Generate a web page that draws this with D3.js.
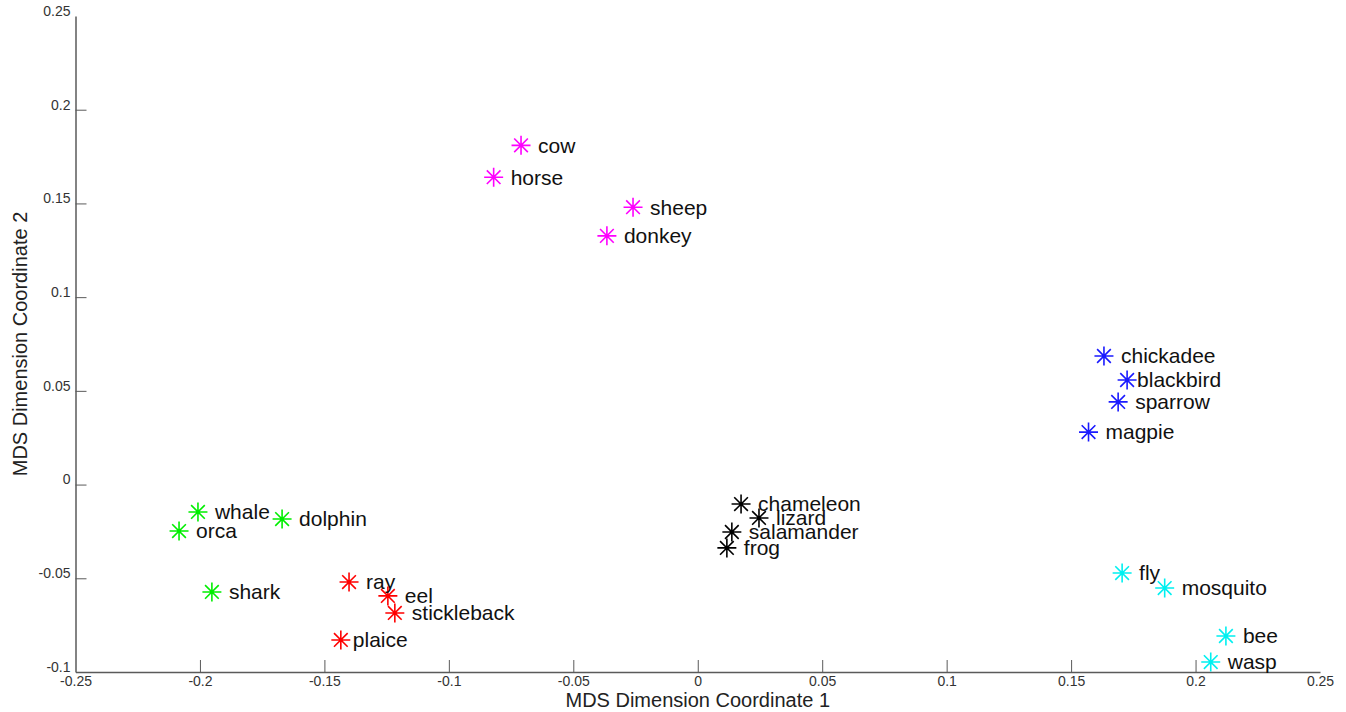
<!DOCTYPE html>
<html><head><meta charset="utf-8">
<script src="https://cdn.jsdelivr.net/npm/d3@7/dist/d3.min.js"></script>
<style>body{margin:0;background:#fff}</style>
</head><body>
<svg id="c" width="1346" height="712"></svg>
<script>
const names = ["cow","horse","sheep","donkey","chickadee","blackbird","sparrow","magpie","chameleon","lizard","salamander","frog","whale","orca","dolphin","shark","ray","eel","stickleback","plaice","fly","mosquito","bee","wasp"];
const groups = ["mammal","mammal","mammal","mammal","bird","bird","bird","bird","reptile","reptile","reptile","reptile","sea","sea","sea","sea","fish","fish","fish","fish","insect","insect","insect","insect"];
const xValues = [-0.071,-0.082,-0.026,-0.0365,0.1632,0.1725,0.1689,0.157,0.0174,0.0246,0.0137,0.0117,-0.2008,-0.2084,-0.167,-0.1952,-0.1401,-0.1245,-0.1217,-0.1434,0.1705,0.1876,0.2122,0.2061];
const yValues = [0.181,0.164,0.148,0.1327,0.0686,0.0558,0.0441,0.028,-0.0104,-0.0178,-0.0253,-0.0338,-0.0146,-0.0248,-0.0184,-0.0573,-0.052,-0.0594,-0.0685,-0.0829,-0.0472,-0.0552,-0.0808,-0.0947];
const groupNames = ["mammal","bird","reptile","sea","fish","insect"];
const groupColors = ["#ff00ff","#1a1aff","#000000","#00ee00","#ff0000","#00f0f0"];
const xTicks = [-0.25,-0.2,-0.15,-0.1,-0.05,0,0.05,0.1,0.15,0.2,0.25];
const yTicks = [-0.1,-0.05,0,0.05,0.1,0.15,0.2,0.25];
const xLabel = "MDS Dimension Coordinate 1";
const yLabel = "MDS Dimension Coordinate 2";

const svg = d3.select("#c");
const L=75.5, R=1320, T=16, B=672;
const x = d3.scaleLinear().domain([-0.25,0.25]).range([L,R]);
const y = d3.scaleLinear().domain([-0.1,0.25]).range([B,T]);
const color = d3.scaleOrdinal().domain(groupNames).range(groupColors);
const fmt = d => (d===0?"0":String(d));
const axisColor="#5a5a5a";
const font="Liberation Sans, Arial, sans-serif";

// bottom axis
const gx = svg.append("g").attr("transform",`translate(0,${B})`)
  .call(d3.axisBottom(x).tickValues(xTicks).tickFormat(fmt).tickSizeInner(-12).tickSizeOuter(0).tickPadding(6));
gx.select(".domain").attr("stroke",axisColor).attr("stroke-width",1.5);
gx.selectAll(".tick line").attr("stroke",axisColor).attr("stroke-width",1);
gx.selectAll(".tick").filter(d=>d===-0.25||d===0.25).select("line").remove();
gx.selectAll(".tick text").attr("font-family",font).attr("font-size",14).attr("fill","#333").attr("dy","0.55em");

// left axis
const gy = svg.append("g").attr("transform",`translate(${L},0)`)
  .call(d3.axisLeft(y).tickValues(yTicks).tickFormat(fmt).tickSizeInner(-11).tickSizeOuter(0).tickPadding(5));
gy.select(".domain").attr("stroke",axisColor).attr("stroke-width",1.5);
gy.selectAll(".tick line").attr("stroke",axisColor).attr("stroke-width",1);
gy.selectAll(".tick").filter(d=>d===-0.1||d===0.25).select("line").remove();
gy.selectAll(".tick text").attr("font-family",font).attr("font-size",14).attr("fill","#333").attr("dy","-0.05em");

// axis labels
svg.append("text").attr("x",(L+R)/2).attr("y",707).attr("text-anchor","middle")
  .attr("font-family",font).attr("font-size",20).attr("fill","#222").text(xLabel);
svg.append("text").attr("transform",`translate(27,${(T+B)/2}) rotate(-90)`).attr("text-anchor","middle")
  .attr("font-family",font).attr("font-size",20).attr("fill","#222").text(yLabel);

// asterisk marker
const r=9.5, rd=r*0.72;
const star = `M0,${-r}L0,${r}M${-r},0L${r},0M${-rd},${-rd}L${rd},${rd}M${-rd},${rd}L${rd},${-rd}`;
const data = names.map((n,i)=>({name:n,group:groups[i],x:xValues[i],y:yValues[i]}));
const labelNudge = {blackbird:-7, plaice:-5};

svg.append("g").selectAll("path").data(data).join("path")
  .attr("transform",d=>`translate(${x(d.x)},${y(d.y)})`)
  .attr("d",star).attr("fill","none").attr("stroke",d=>color(d.group)).attr("stroke-width",1.6);

svg.append("g").selectAll("text").data(data).join("text")
  .attr("x",d=>x(d.x)+17+(labelNudge[d.name]||0)).attr("y",d=>y(d.y)).attr("dy","0.35em")
  .attr("font-family",font).attr("font-size",21).attr("fill","#111")
  .text(d=>d.name);
</script>
</body></html>
